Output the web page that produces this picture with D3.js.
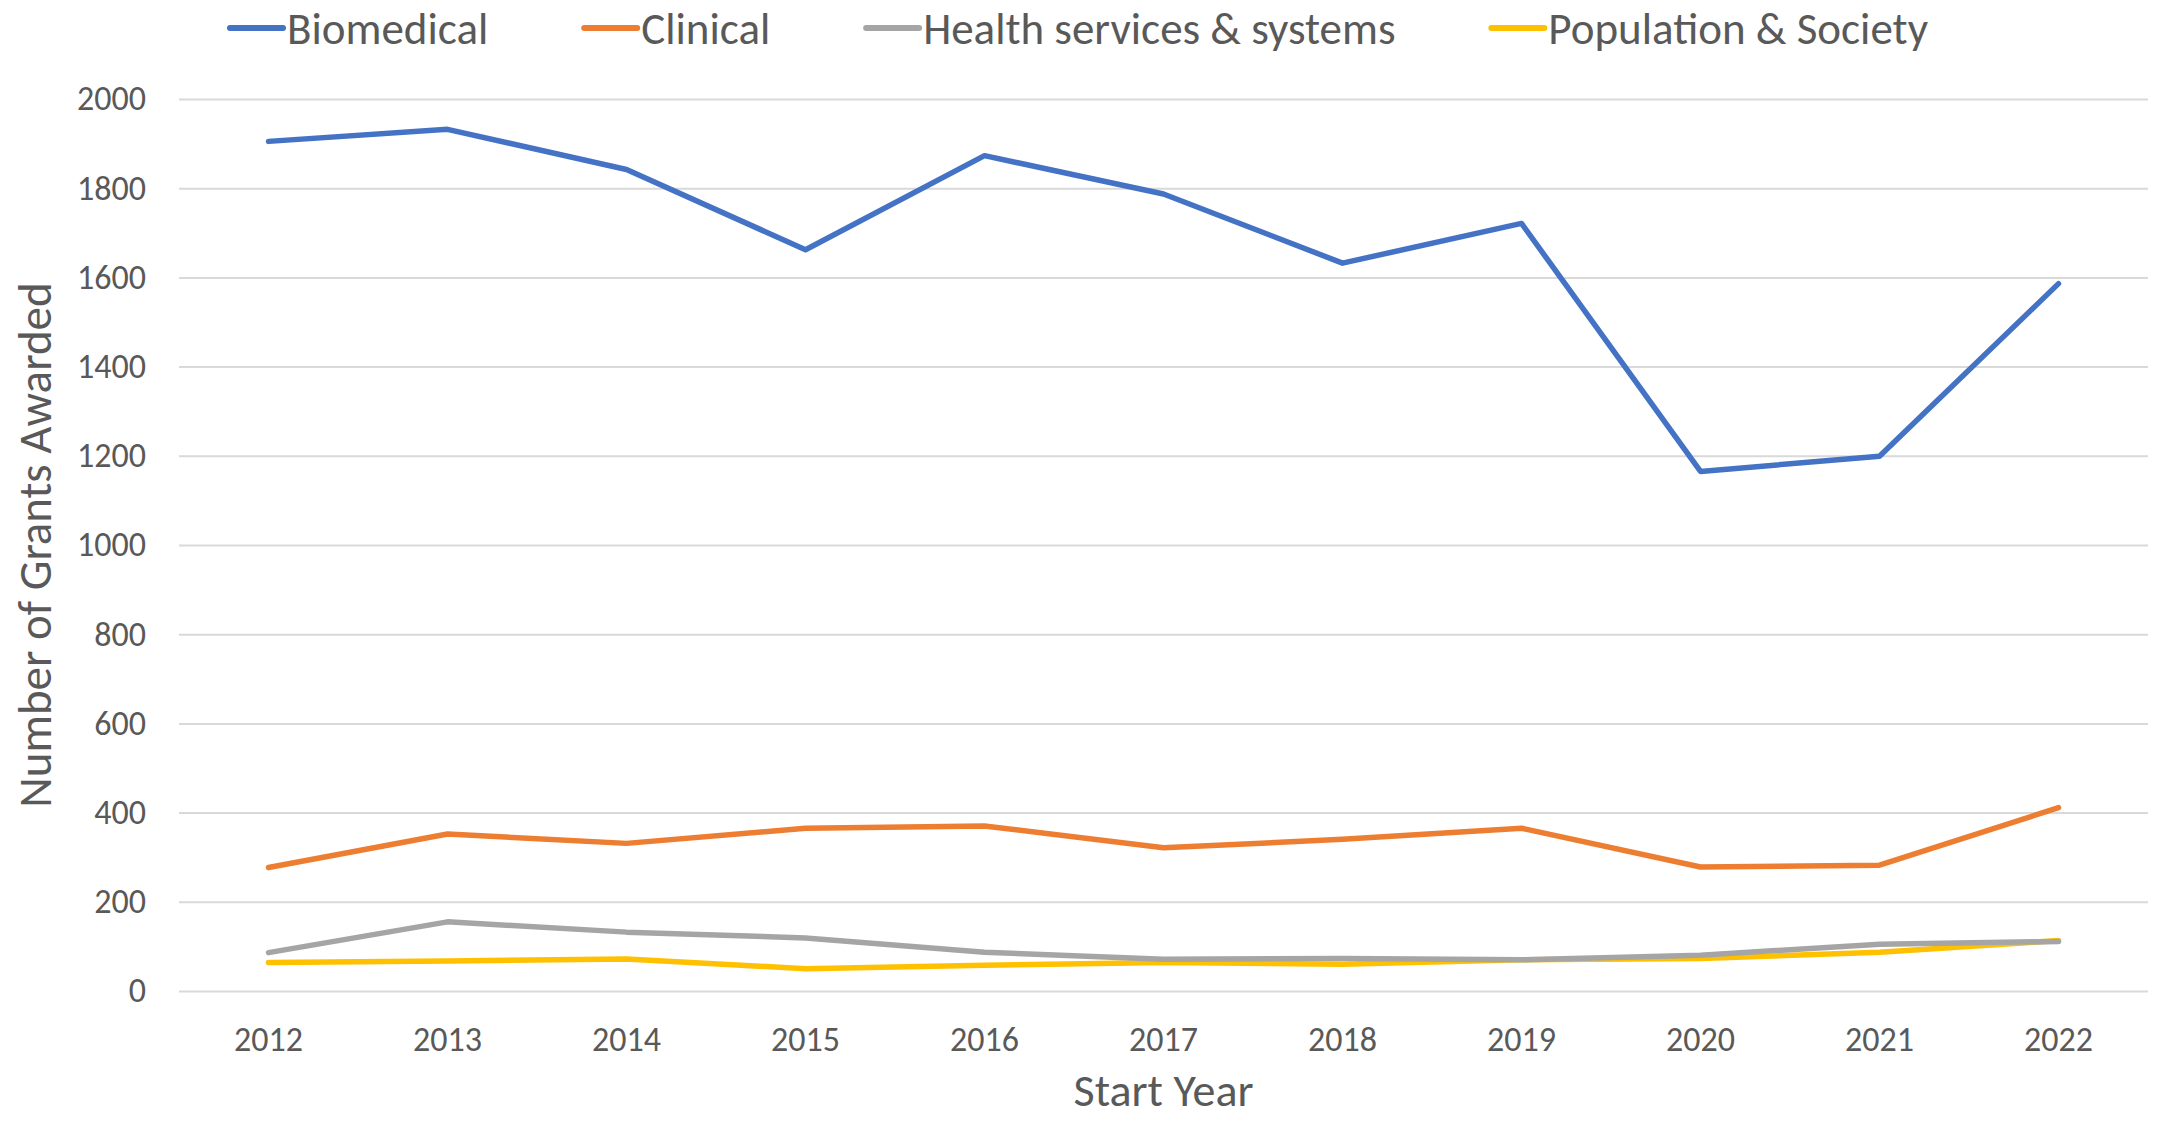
<!DOCTYPE html>
<html>
<head>
<meta charset="utf-8">
<script src="https://cdn.jsdelivr.net/npm/d3@7"></script>
<style>
  body { margin: 0; background: #fff; }
  text { font-family: Carlito, Lato, sans-serif; fill: #595959; }
</style>
</head>
<body>
<script>
// grants by research area
const years = ['2012', '2013', '2014', '2015', '2016', '2017', '2018', '2019', '2020', '2021', '2022']
const seriesNames = ['Biomedical', 'Clinical', 'Health services & systems', 'Population & Society']
const biomedical = [1905, 1932, 1842, 1662, 1873, 1787, 1632, 1721, 1165, 1199, 1586]
const clinical = [277, 352, 331, 365, 370, 321, 340, 365, 278, 282, 411]
const healthServices = [86, 155, 132, 119, 87, 71, 73, 70, 80, 105, 111]
const population = [64, 67, 72, 50, 58, 64, 60, 70, 73, 87, 113]
const yTicks = [0, 200, 400, 600, 800, 1000, 1200, 1400, 1600, 1800, 2000]
const colors = ['#4472C4', '#ED7D31', '#A5A5A5', '#FFC000']

const allSeries = [biomedical, clinical, healthServices, population]

const w = 2162
const h = 1122
const margin = { top: 99, right: 14, bottom: 131, left: 179 }

const svg = d3.select('body')
  .append('svg')
  .attr('width', w)
  .attr('height', h)

const x = d3.scaleBand()
  .domain(years)
  .range([margin.left, w - margin.right])

const y = d3.scaleLinear()
  .domain([0, 2000])
  .range([h - margin.bottom, margin.top])

// gridlines + y labels
const yAxis = svg.append('g')
  .attr('transform', `translate(${margin.left},0)`)
  .call(d3.axisLeft(y).tickValues(yTicks).tickFormat(d3.format('d'))
    .tickSize(-(w - margin.left - margin.right)).tickPadding(33))
yAxis.select('.domain').remove()
yAxis.selectAll('line').attr('stroke', '#D9D9D9').attr('stroke-width', 2)
yAxis.selectAll('text').attr('font-size', 34).attr('fill', '#595959')

// x labels
const xAxis = svg.append('g')
  .attr('transform', `translate(0,${h - margin.bottom})`)
  .call(d3.axisBottom(x).tickSize(0).tickPadding(36))
xAxis.select('.domain').remove()
xAxis.selectAll('text').attr('font-size', 34).attr('fill', '#595959')

const line = d3.line()
  .x((d, i) => x(years[i]) + x.bandwidth() / 2)
  .y(d => y(d))

// draw back to front so blue ends on top
svg.selectAll('path.series')
  .data(allSeries.map((s, i) => ({ values: s, color: colors[i] })).reverse())
  .enter()
  .append('path')
  .attr('class', 'series')
  .attr('d', d => line(d.values))
  .attr('fill', 'none')
  .attr('stroke', d => d.color)
  .attr('stroke-width', 5.5)
  .attr('stroke-linejoin', 'round')
  .attr('stroke-linecap', 'round')

// axis titles
svg.append('text')
  .attr('x', (margin.left + w - margin.right) / 2)
  .attr('y', 1106)
  .attr('text-anchor', 'middle')
  .attr('font-size', 46)
  .text('Start Year')

svg.append('text')
  .attr('transform', `translate(51,545) rotate(-90)`)
  .attr('text-anchor', 'middle')
  .attr('font-size', 47)
  .text('Number of Grants Awarded')

// legend
const legend = svg.append('g')
const items = legend.selectAll('g')
  .data(seriesNames)
  .enter()
  .append('g')
items.append('line')
  .attr('x1', 0).attr('x2', 53)
  .attr('y1', 0).attr('y2', 0)
  .attr('stroke', (d, i) => colors[i])
  .attr('stroke-width', 6)
  .attr('stroke-linecap', 'round')
items.append('text')
  .attr('x', 57)
  .attr('y', 16)
  .attr('font-size', 45)
  .text(d => d)

// spread items over the same span as the original legend
const legendStart = 230
const legendEnd = 1928
const widths = []
items.each(function () {
  widths.push(57 + d3.select(this).select('text').node().getComputedTextLength())
})
const gap = (legendEnd - legendStart - d3.sum(widths)) / (widths.length - 1)
let cx = legendStart
items.each(function (d, i) {
  d3.select(this).attr('transform', `translate(${cx},28)`)
  cx += widths[i] + gap
})
</script>
</body>
</html>
